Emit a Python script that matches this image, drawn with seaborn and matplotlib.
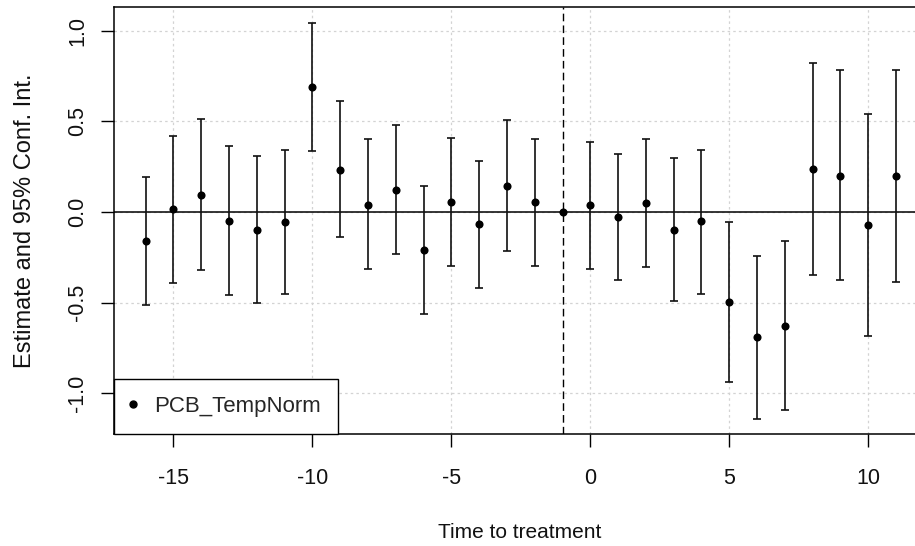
import numpy as np
import pandas as pd
import matplotlib
matplotlib.use("Agg")
import matplotlib.pyplot as plt
import seaborn as sns
from matplotlib.lines import Line2D

# Event-study estimates and 95% confidence bounds by period relative to treatment
periods = list(range(-16, 12))
estimate = [-0.160, 0.015, 0.096, -0.050, -0.097, -0.057, 0.689, 0.232, 0.041, 0.120,
            -0.210, 0.055, -0.064, 0.144, 0.055, 0.000, 0.041, -0.025, 0.048, -0.097,
            -0.050, -0.499, -0.692, -0.628, 0.240, 0.201, -0.073, 0.201]
ci_low = [-0.514, -0.394, -0.320, -0.458, -0.501, -0.451, 0.337, -0.136, -0.313, -0.234,
          -0.564, -0.298, -0.418, -0.217, -0.298, 0.000, -0.313, -0.377, -0.306, -0.492,
          -0.451, -0.941, -1.142, -1.094, -0.346, -0.377, -0.683, -0.387]
ci_high = [0.192, 0.418, 0.516, 0.363, 0.308, 0.345, 1.044, 0.613, 0.402, 0.483,
           0.144, 0.411, 0.280, 0.507, 0.402, 0.000, 0.385, 0.320, 0.402, 0.297,
           0.345, -0.055, -0.243, -0.160, 0.822, 0.787, 0.540, 0.787]
x_ticks = [-15, -10, -5, 0, 5, 10]
y_ticks = [-1.0, -0.5, 0.0, 0.5, 1.0]
y_tick_labels = ["-1.0", "-0.5", "0.0", "0.5", "1.0"]
series_name = "PCB_TempNorm"
reference_period = -1

df = pd.DataFrame({"t": periods, "est": estimate, "lo": ci_low, "hi": ci_high})

sns.set_theme(style="white")
plt.rcParams["font.family"] = ["Liberation Sans", "DejaVu Sans"]

fig = plt.figure(figsize=(9.15, 5.46), dpi=100)
ax = fig.add_axes([114 / 915, 1 - 434.3 / 546, 812 / 915, 427.6 / 546])

ax.set_xlim(-17.14, 12.08)
ax.set_ylim(-1.228, 1.134)

# dotted background grid
for xv in x_ticks:
    ax.axvline(xv, color="#d3d3d3", lw=0.9, ls=(0, (2, 2.5)), zorder=0)
for yv in y_ticks:
    ax.axhline(yv, color="#d3d3d3", lw=0.9, ls=(0, (2, 2.5)), zorder=0)

ax.axhline(0, color="black", lw=1.1, zorder=1)
vline = ax.axvline(reference_period, color="black", lw=1.0, zorder=1)
vline.set_dashes([5.5, 3.0])

# confidence intervals (the reference period has none)
ci = df[df["lo"] != df["hi"]]
ax.errorbar(ci["t"], ci["est"],
            yerr=[ci["est"] - ci["lo"], ci["hi"] - ci["est"]],
            fmt="none", ecolor="#111111", elinewidth=1.2, capsize=3.2,
            capthick=1.2, zorder=2)

sns.scatterplot(data=df, x="t", y="est", color="black", s=34, linewidth=0,
                ax=ax, zorder=3, legend=False)

ax.set_xticks(x_ticks)
ax.set_xticklabels([str(v) for v in x_ticks], fontsize=15.5)
ax.set_yticks(y_ticks)
ax.set_yticklabels(y_tick_labels, fontsize=15.5, rotation=90, va="center")
ax.tick_params(axis="both", direction="out", length=9.4, width=1.0, color="black",
               labelcolor="#111111", left=True, bottom=True)
ax.tick_params(axis="x", pad=15)
ax.tick_params(axis="y", pad=9)

ax.set_xlabel("Time to treatment", fontsize=15, color="#111111", labelpad=24)
ax.set_ylabel("Estimate and 95% Conf. Int.", fontsize=17, color="#111111", labelpad=22.5)

for side in ["left", "right", "top", "bottom"]:
    ax.spines[side].set_visible(True)
    ax.spines[side].set_color("black")
    ax.spines[side].set_linewidth(1.1)

handle = Line2D([], [], marker="o", color="black", ls="none", markersize=5)
leg = ax.legend([handle], [series_name], loc="lower left", borderaxespad=0,
                fancybox=False, frameon=True, framealpha=1, edgecolor="black",
                fontsize=16, handlelength=0.18, handletextpad=0.85, borderpad=0.78)
leg.get_frame().set_linewidth(1.0)
leg.set_zorder(5)

fig.savefig("out.png", dpi=100, facecolor="white")
